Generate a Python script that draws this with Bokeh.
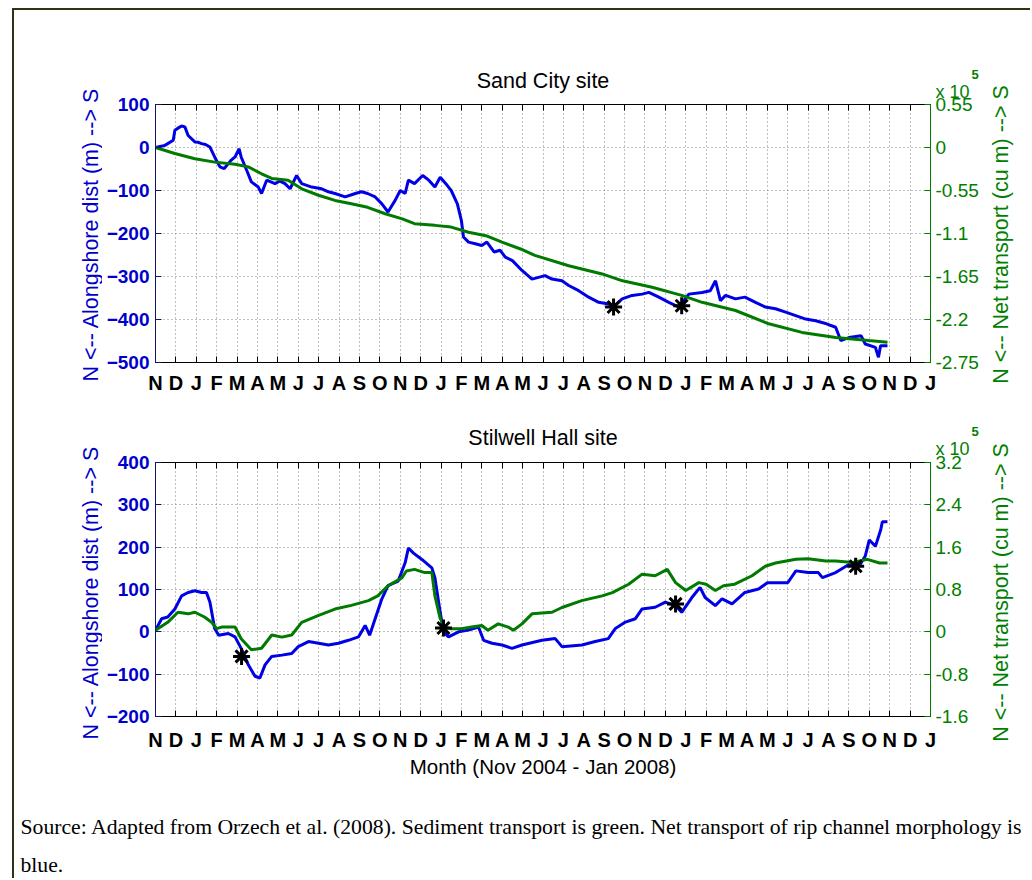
import math
from bokeh.plotting import figure
from bokeh.models import Range1d, LinearAxis, FixedTicker, Label, Plot
from bokeh.layouts import column, row
from bokeh.embed import file_html
from bokeh.resources import INLINE

# ---------------- data ----------------
MONTHS = ["N", "D", "J", "F", "M", "A", "M", "J", "J", "A", "S", "O",
          "N", "D", "J", "F", "M", "A", "M", "J", "J", "A", "S", "O",
          "N", "D", "J", "F", "M", "A", "M", "J", "J", "A", "S", "O",
          "N", "D", "J"]
MONTH_POS = list(range(len(MONTHS)))  # months since Nov 2004

# Sand City site
sand_left_ticks = [100, 0, -100, -200, -300, -400, -500]
sand_right_ticks = [0.55, 0, -0.55, -1.1, -1.65, -2.2, -2.75]
sand_right_labels = ["0.55", "0", "-0.55", "-1.1", "-1.65", "-2.2", "-2.75"]

sand_blue_t = [0, 0.46, 0.87, 0.95, 1.1, 1.28, 1.44, 1.6, 1.93, 2.1, 2.26, 2.45, 2.67, 2.9,
               3.16, 3.37, 3.7, 3.9, 4.1, 4.2, 4.47, 4.7, 5.04, 5.2, 5.45, 5.86, 6.1, 6.35,
               6.6, 6.92, 7.17, 7.66, 8.15, 8.48, 8.8, 9.3, 9.8, 10.1, 10.4, 10.77, 11.1,
               11.4, 11.75, 12.0, 12.24, 12.4, 12.7, 13.1, 13.4, 13.7, 13.96, 14.3, 14.5,
               14.8, 15.0, 15.1, 15.35, 15.68, 16.0, 16.25, 16.6, 16.9, 17.15, 17.5, 17.97,
               18.46, 19.1, 19.44, 19.93, 20.26, 20.75, 21.24, 21.73, 22.22, 22.46, 22.88,
               23.37, 23.86, 24.19, 24.68, 25.17, 25.66, 26.15, 26.8, 27.2, 27.46, 27.7,
               27.95, 28.44, 28.9, 29.42, 29.9, 30.4, 30.9, 31.39, 31.88, 32.37, 32.9,
               33.35, 33.6, 34.0, 34.6, 34.8, 35.3, 35.45, 35.55, 35.89]
sand_blue_v = [0, 5, 17, 40, 45, 50, 48, 28, 13, 12, 9, 7, 1, -22,
               -45, -49, -30, -22, -3, -22, -53, -80, -92, -107, -76, -84, -78, -84,
               -96, -65, -84, -92, -96, -103, -107, -115, -107, -103, -107, -115, -131,
               -150, -123, -100, -107, -76, -84, -65, -76, -92, -69, -88, -100,
               -131, -170, -208, -220, -224, -228, -220, -243, -239, -255, -263, -286,
               -306, -298, -306, -310, -321, -333, -348, -360, -364, -371, -352,
               -344, -341, -337, -348, -360, -371, -341, -337, -333, -310, -356,
               -344, -352, -348, -360, -371, -375, -383, -391, -399, -403, -410,
               -418, -449, -442, -438, -457, -465, -488, -461, -461]

sand_green_t = [0, 0.95, 1.93, 2.9, 3.9, 4.55, 5.2, 5.7, 6.5, 7.17, 7.99, 8.8, 9.6, 10.4,
                11.26, 12.1, 12.7, 13.7, 14.5, 15.35, 16.2, 16.99, 17.9, 18.6, 20.26, 21.9,
                22.9, 24.35, 25.8, 26.8, 28.44, 30.07, 31.7, 33.35, 34.97, 35.89]
sand_green_v = [0, -0.077, -0.143, -0.187, -0.215, -0.248, -0.336, -0.396, -0.418, -0.528,
                -0.611, -0.677, -0.72, -0.765, -0.847, -0.913, -0.974, -0.996, -1.018,
                -1.084, -1.128, -1.21, -1.298, -1.38, -1.513, -1.617, -1.705, -1.788,
                -1.892, -1.98, -2.085, -2.255, -2.365, -2.431, -2.47, -2.49]

sand_star_t = [22.46, 25.8]
sand_star_v = [-371, -368]

# Stilwell Hall site
stil_left_ticks = [400, 300, 200, 100, 0, -100, -200]
stil_right_ticks = [3.2, 2.4, 1.6, 0.8, 0, -0.8, -1.6]
stil_right_labels = ["3.2", "2.4", "1.6", "0.8", "0", "-0.8", "-1.6"]

stil_blue_t = [0, 0.3, 0.6, 0.95, 1.28, 1.6, 1.93, 2.26, 2.5, 2.67, 2.9, 3.1, 3.57, 3.9,
               4.2, 4.55, 4.88, 5.12, 5.37, 5.7, 6.2, 6.68, 7.0, 7.5, 8.0, 8.48, 8.97,
               9.46, 9.95, 10.28, 10.5, 10.77, 11.1, 11.4, 11.9, 12.24, 12.4, 12.65,
               13.06, 13.55, 13.7, 13.96, 14.12, 14.37, 14.86, 15.35, 15.84, 16.09, 16.5,
               16.99, 17.48, 17.97, 18.95, 19.6, 19.93, 20.91, 21.56, 22.2, 22.55, 23.04,
               23.53, 23.86, 24.5, 25.0, 25.5, 25.8, 26.3, 26.7, 26.95, 27.45, 27.78,
               28.27, 28.9, 29.57, 30.0, 30.7, 31.0, 31.4, 32.0, 32.5, 32.7, 33.35, 34.0,
               34.5, 34.8, 35.0, 35.3, 35.56, 35.64, 35.89]
stil_blue_v = [4, 31, 35, 54, 85, 93, 97, 93, 93, 70, 8, -8, -4, -12,
               -39, -78, -105, -109, -78, -58, -55, -51, -35, -23, -27, -31, -27,
               -20, -12, 15, -8, 31, 78, 109, 120, 163, 198, 186,
               171, 151, 128, 46, 0, -12, 0, 4, 11, -20, -27,
               -31, -39, -31, -20, -16, -35, -31, -23, -16, 8, 23,
               31, 54, 58, 70, 62, 46, 81, 105, 81, 62, 78,
               66, 93, 101, 116, 116, 116, 144, 140, 140, 128, 140, 159,
               155, 179, 217, 202, 241, 260, 260]

stil_green_t = [0, 0.6, 1.1, 1.6, 1.93, 2.4, 2.75, 3.0, 3.24, 3.9, 4.2, 4.7, 5.2, 5.7, 6.2,
                6.68, 7.17, 8.0, 8.8, 9.6, 10.44, 10.9, 11.4, 12.08, 12.3, 12.7, 13.2,
                13.55, 13.7, 13.96, 14.2, 14.45, 15.0, 15.5, 16.0, 16.3, 16.8, 17.3,
                17.55, 17.97, 18.46, 19.44, 19.93, 20.9, 21.9, 22.4, 23.2, 23.86, 24.5,
                25.09, 25.5, 26.0, 26.64, 27.0, 27.45, 27.85, 28.4, 29.25, 29.9, 30.4,
                31.4, 32.0, 32.87, 33.35, 34.2, 34.9, 35.5, 35.89]
stil_green_v = [0.03, 0.18, 0.37, 0.34, 0.37, 0.28, 0.18, 0.06, 0.09, 0.09, -0.13, -0.34,
                -0.31, -0.06, -0.1, -0.06, 0.18, 0.31, 0.43, 0.5, 0.59, 0.68, 0.87, 1.02,
                1.15, 1.18, 1.12, 1.12, 0.68, 0.25, 0.09, 0.06, 0.06, 0.09, 0.12, 0.03,
                0.15, 0.09, 0.03, 0.15, 0.34, 0.37, 0.46, 0.59, 0.68, 0.74, 0.9, 1.09,
                1.06, 1.18, 0.93, 0.78, 0.93, 0.9, 0.78, 0.87, 0.9, 1.06, 1.24, 1.3,
                1.37, 1.38, 1.34, 1.34, 1.31, 1.37, 1.3, 1.3]

stil_star_t = [4.22, 14.12, 25.5, 34.33]
stil_star_v = [-58, 9, 66, 155]

TITLES = ["Sand City site", "Stilwell Hall site"]
SCALE_TEXT = "x 10"
SCALE_EXP = "5"
LEFT_LABEL = "N <-- Alongshore dist (m) --> S"
RIGHT_LABEL = "N <-- Net transport (cu m) --> S"
X_LABEL = "Month (Nov 2004 - Jan 2008)"
CAPTION_1 = ("Source: Adapted from Orzech et al. (2008). Sediment transport is green. "
             "Net transport of rip channel morphology is")
CAPTION_2 = "blue."

# ---------------- style / layout (page pixels) ----------------
SANS = "Liberation Sans"
SERIF = "Liberation Serif"
BLUE = "#0000e6"
BLUE_TXT = "#0000cc"
GREEN = "#007a00"
GREEN_TXT = "#008000"
X0, X1 = 14, 1030          # content extent
XL, XR = 102, 986          # middle column (plots) extent
FRAME_L, FRAME_R = 155, 930
OVERLAP = 18               # plot canvas overlaps the heading canvas by this much
NO_ALIGN = {"frame_align": False} if "frame_align" in Plot.properties() else {}


def strip(x_l, x_r, y_top, y_bot):
    """A plain canvas whose data coordinates equal page pixels."""
    s = figure(width=x_r - x_l, height=y_bot - y_top,
               x_range=Range1d(x_l, x_r), y_range=Range1d(y_bot, y_top),
               output_backend="svg", toolbar_location=None, min_border=0,
               x_axis_type=None, y_axis_type=None, outline_line_color=None,
               **NO_ALIGN)
    s.grid.visible = False
    return s


def side_label(x_l, x_r, y_top, y_bot, text, cx, cy, color):
    s = strip(x_l, x_r, y_top, y_bot)
    s.add_layout(Label(x=cx, y=cy, text=text, angle=math.pi / 2,
                       text_align="center", text_baseline="middle",
                       text_font=SANS, text_font_size="21.5px", text_color=color))
    return s


def head(y_top, y_bot, title, title_y, scale_y, exp_y):
    s = strip(XL, XR, y_top, y_bot)
    s.add_layout(Label(x=(FRAME_L + FRAME_R) / 2, y=title_y, text=title,
                       text_align="center", text_baseline="middle",
                       text_font=SANS, text_font_size="21.5px", text_color="black"))
    s.add_layout(Label(x=FRAME_R + 5, y=scale_y, text=SCALE_TEXT,
                       text_align="left", text_baseline="middle",
                       text_font=SANS, text_font_size="18px", text_color=GREEN_TXT))
    s.add_layout(Label(x=FRAME_R + 41, y=exp_y, text=SCALE_EXP,
                       text_align="left", text_baseline="middle",
                       text_font=SANS, text_font_size="13px", text_font_style="bold",
                       text_color=GREEN_TXT))
    return s


def panel(bt, bv, gt, gv, st, sv, lticks, rticks, rlabels, y_top, y_bot,
          frame_top, frame_bot, tick_standoff, xlabel=None):
    p = figure(width=XR - XL, height=y_bot - y_top,
               x_range=Range1d(0, len(MONTHS) - 1),
               y_range=Range1d(min(lticks), max(lticks)),
               output_backend="svg", toolbar_location=None,
               min_border_left=FRAME_L - XL, min_border_right=XR - FRAME_R,
               min_border_top=frame_top - y_top, min_border_bottom=y_bot - frame_bot,
               outline_line_color="black", outline_line_width=1,
               background_fill_color="white", border_fill_color=None,
               styles={"margin-top": f"-{OVERLAP}px"})
    p.extra_y_ranges = {"right": Range1d(min(rticks), max(rticks))}

    mt = FixedTicker(ticks=MONTH_POS)
    xa = p.xaxis[0]
    xa.ticker = mt
    xa.major_label_overrides = {i: m for i, m in enumerate(MONTHS)}
    xa.major_label_text_font = SANS
    xa.major_label_text_font_size = "20px"
    xa.major_label_text_font_style = "bold"
    xa.major_label_text_color = "black"
    xa.major_label_standoff = tick_standoff
    xa.major_tick_in = 6
    xa.major_tick_out = 0
    xa.minor_tick_line_color = None
    xa.axis_line_color = "black"
    xa.major_tick_line_color = "black"
    if xlabel:
        xa.axis_label = xlabel
        xa.axis_label_text_font = SANS
        xa.axis_label_text_font_size = "20.5px"
        xa.axis_label_text_font_style = "normal"
        xa.axis_label_text_color = "black"
        xa.axis_label_standoff = 1

    ya = p.yaxis[0]
    ya.ticker = FixedTicker(ticks=lticks)
    ya.major_label_text_font = SANS
    ya.major_label_text_font_size = "19px"
    ya.major_label_text_font_style = "bold"
    ya.major_label_text_color = BLUE_TXT
    ya.major_label_standoff = 6
    ya.major_tick_in = 6
    ya.major_tick_out = 0
    ya.minor_tick_line_color = None
    ya.axis_line_color = "#15156e"
    ya.major_tick_line_color = "#15156e"

    ta = LinearAxis(ticker=mt, major_label_overrides={i: "" for i in MONTH_POS},
                    major_label_text_font_size="0px", major_label_standoff=0,
                    major_tick_in=6, major_tick_out=0,
                    minor_tick_line_color=None, axis_line_color="black",
                    major_tick_line_color="black")
    p.add_layout(ta, "above")

    ra = LinearAxis(y_range_name="right", ticker=FixedTicker(ticks=rticks),
                    major_label_overrides=dict(zip(rticks, rlabels)),
                    major_label_text_font=SANS, major_label_text_font_size="19px",
                    major_label_text_font_style="normal", major_label_text_color=GREEN_TXT,
                    major_label_standoff=5, major_tick_in=6, major_tick_out=0,
                    minor_tick_line_color=None, axis_line_color=GREEN,
                    major_tick_line_color=GREEN)
    p.add_layout(ra, "right")

    p.xgrid.ticker = mt
    p.ygrid.ticker = FixedTicker(ticks=lticks)
    p.grid.grid_line_color = "#808080"
    p.grid.grid_line_dash = "1 3"
    p.grid.grid_line_width = 1

    p.line(bt, bv, line_color=BLUE, line_width=3)
    p.line(gt, gv, y_range_name="right", line_color=GREEN, line_width=3)
    p.scatter(st, sv, marker="asterisk", size=17, line_width=3, line_color="black")
    return p


# --- Sand City block (page y 10..400) ---
headA = head(10, 84 + OVERLAP, TITLES[0], title_y=80, scale_y=91, exp_y=74)
pA = panel(sand_blue_t, sand_blue_v, sand_green_t, sand_green_v, sand_star_t, sand_star_v,
           sand_left_ticks, sand_right_ticks, sand_right_labels,
           y_top=84, y_bot=400, frame_top=104, frame_bot=362, tick_standoff=9)
leftA = side_label(X0, XL, 10, 400, LEFT_LABEL, 90, 234, BLUE_TXT)
rightA = side_label(XR, X1, 10, 400, RIGHT_LABEL, 1000, 234, GREEN_TXT)
blockA = row(leftA, column(headA, pA), rightA)

# --- Stilwell Hall block (page y 400..780) ---
headB = head(400, 440 + OVERLAP, TITLES[1], title_y=437, scale_y=448, exp_y=431)
pB = panel(stil_blue_t, stil_blue_v, stil_green_t, stil_green_v, stil_star_t, stil_star_v,
           stil_left_ticks, stil_right_ticks, stil_right_labels,
           y_top=440, y_bot=780, frame_top=462, frame_bot=719, tick_standoff=12,
           xlabel=X_LABEL)
leftB = side_label(X0, XL, 400, 780, LEFT_LABEL, 90, 592, BLUE_TXT)
rightB = side_label(XR, X1, 400, 780, RIGHT_LABEL, 1000, 592, GREEN_TXT)
blockB = row(leftB, column(headB, pB), rightB)

# --- caption (page y 780..878) ---
cap = strip(X0, X1, 780, 878)
cap.add_layout(Label(x=20, y=826, text=CAPTION_1, text_font=SERIF, text_font_size="21.7px",
                     text_baseline="middle", text_color="black"))
cap.add_layout(Label(x=20, y=864, text=CAPTION_2, text_font=SERIF, text_font_size="21.7px",
                     text_baseline="middle", text_color="black"))

layout = column(blockA, blockB, cap,
                styles={"margin-left": "12px", "margin-top": "8px",
                        "border-left": "2px solid #333311",
                        "border-top": "2px solid #333311"})

open("out.html", "w").write(file_html(layout, INLINE))
